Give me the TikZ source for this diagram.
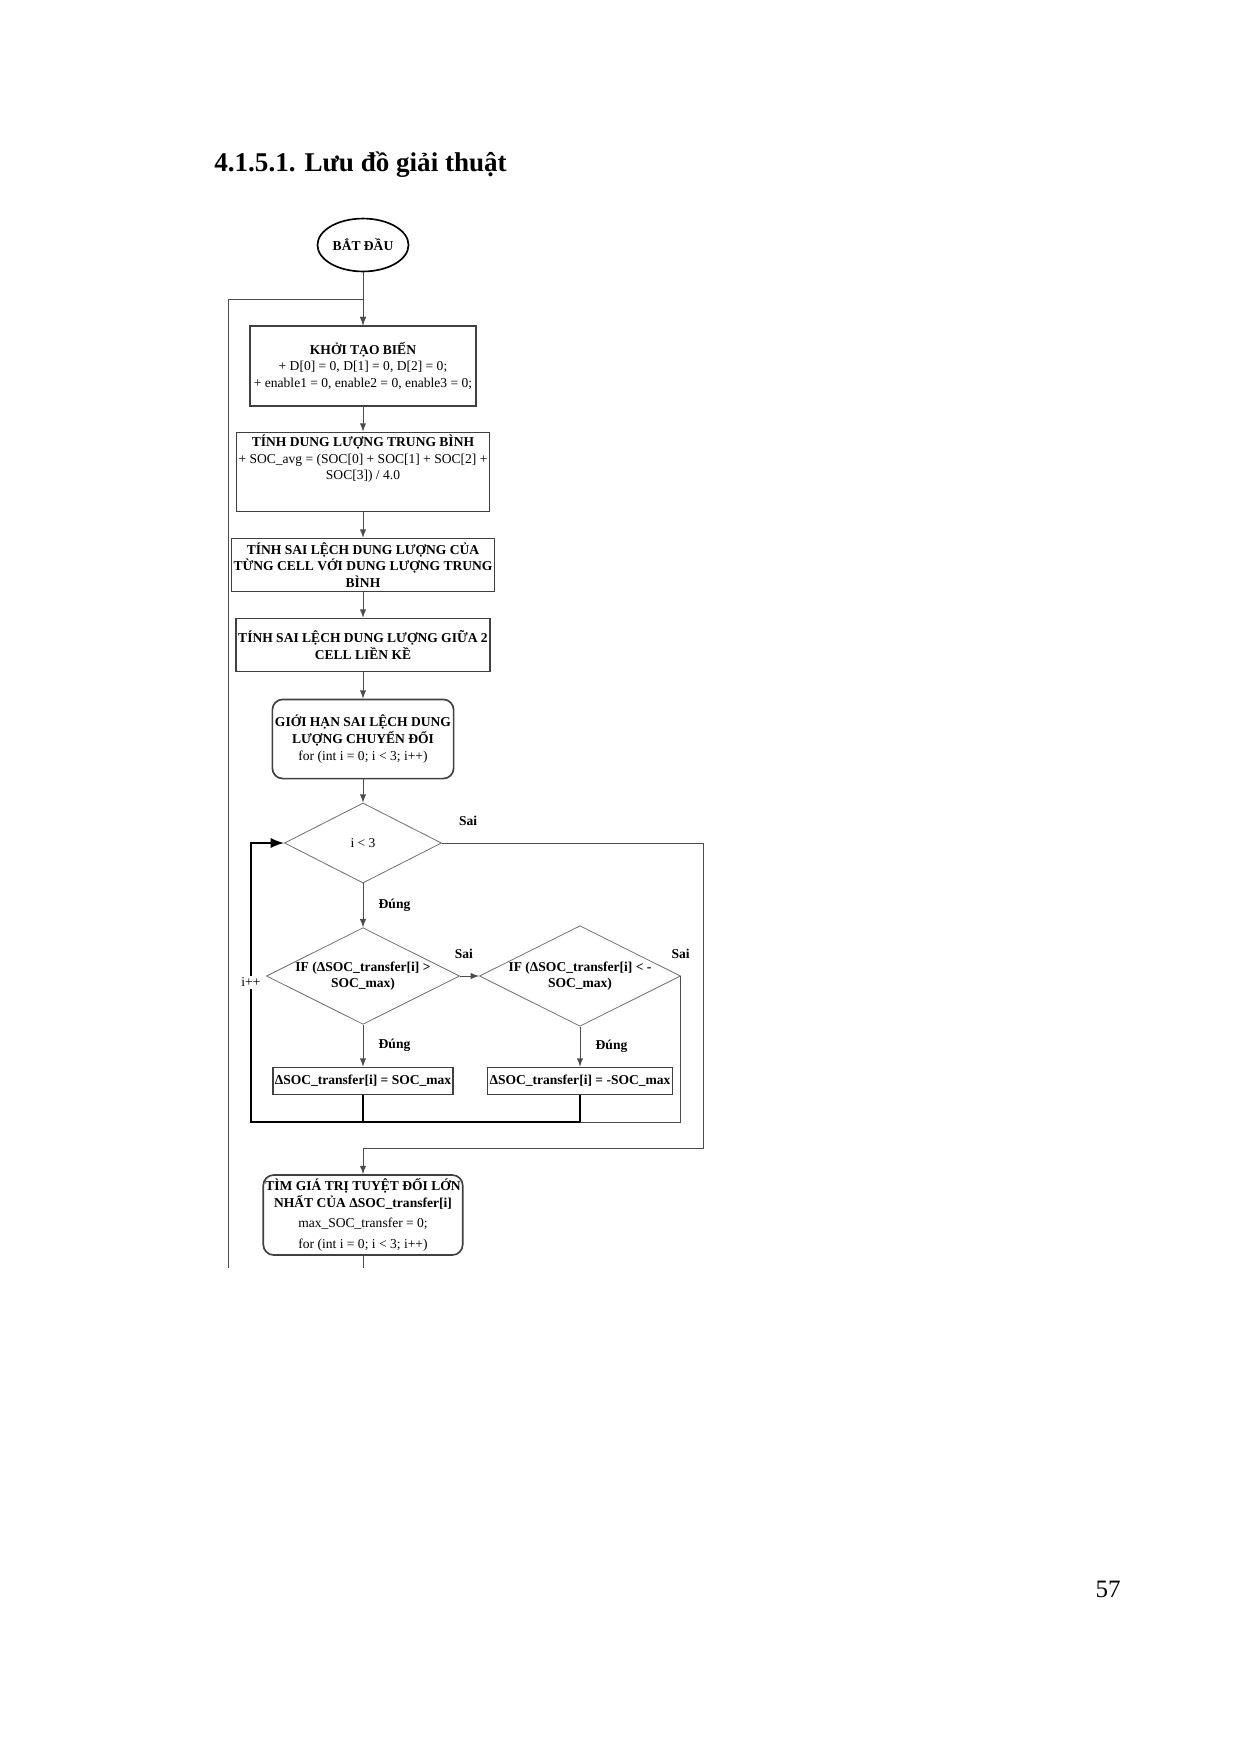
\documentclass[tikz,border=0pt]{standalone}
\usepackage{fontspec}
\setmainfont{Liberation Serif}
\usepackage{tikz}
\usetikzlibrary{arrows,shapes,positioning}

\tikzset{
    procbox/.style={draw=black!75,rectangle,thick,minimum width=108.5pt,align=center,inner sep=1pt,font=\fontsize{6.5}{8}\selectfont},
    roundbox/.style={procbox,rounded corners=5pt,minimum width=87pt,minimum height=38pt},
    test/.style={draw=black!55,diamond,aspect=2,inner sep=0pt,minimum width=75.4pt,minimum height=38.4pt,align=center,font=\fontsize{6.5}{8}\selectfont},
    lab/.style={font=\bfseries\fontsize{6.5}{8}\selectfont},
    flow/.style={draw=black!70,->,>=latex},
}

\begin{document}
\begin{tikzpicture}[x=0.48pt,y=-0.48pt]
    \useasboundingbox (0,0) rectangle (1240,1754);
    \node[anchor=west,font=\bfseries\fontsize{13}{15}\selectfont] (title) at (207,165) {4.1.5.1. Lưu đồ giải thuật};
    \node[font=\fontsize{12}{14}\selectfont] (page) at (1108,1589) {57};

    \node[draw,ellipse,thick,minimum width=43.7pt,minimum height=25.4pt,inner sep=0pt,font=\bfseries\fontsize{6.5}{8}\selectfont] (start) at (363,245) {BẮT ĐẦU};
    \node[procbox,minimum height=38.4pt] (init) at (363,366) {\textbf{KHỞI TẠO BIẾN}\\+ D[0] = 0, D[1] = 0, D[2] = 0;\\+ enable1 = 0, enable2 = 0, enable3 = 0;};
    \node[procbox,minimum height=38pt] (avg) at (363,472) {\textbf{TÍNH DUNG LƯỢNG TRUNG BÌNH}\\+ SOC\_avg = (SOC[0] + SOC[1] + SOC[2] +\\SOC[3]) / 4.0\\[6pt]};
    \node[procbox,minimum height=25.4pt,font=\bfseries\fontsize{6.5}{8}\selectfont] (dev) at (363,565) {TÍNH SAI LỆCH DUNG LƯỢNG  CỦA\\TỪNG CELL VỚI DUNG LƯỢNG TRUNG\\BÌNH};
    \node[procbox,minimum height=25.4pt,font=\bfseries\fontsize{6.5}{8}\selectfont] (adj) at (363,645) {TÍNH SAI LỆCH DUNG LƯỢNG GIỮA 2\\CELL LIỀN KỀ};
    \node[roundbox] (lim) at (363,739) {\textbf{GIỚI HẠN SAI LỆCH DUNG}\\\textbf{LƯỢNG CHUYỂN ĐỔI}\\for (int i = 0; i < 3; i++)};
    \node[test] (loop) at (363,843) {i < 3};
    \node[test,font=\bfseries\fontsize{6.5}{8}\selectfont] (up) at (363,976) {IF (ΔSOC\_transfer[i] >\\SOC\_max)};
    \node[test,font=\bfseries\fontsize{6.5}{8}\selectfont] (down) at (580,976) {IF (ΔSOC\_transfer[i] < -\\SOC\_max)};
    \node[procbox,minimum width=77pt,minimum height=13pt,font=\bfseries\fontsize{6.5}{8}\selectfont] (capup) at (363,1081) {ΔSOC\_transfer[i] = SOC\_max};
    \node[procbox,minimum width=76.5pt,minimum height=13pt,font=\bfseries\fontsize{6.5}{8}\selectfont] (capdown) at (580,1081) {ΔSOC\_transfer[i] = -SOC\_max};
    \node[roundbox,minimum height=38.4pt] (maxs) at (363,1215) {\textbf{TÌM GIÁ TRỊ TUYỆT ĐỐI LỚN}\\\textbf{NHẤT CỦA ΔSOC\_transfer[i]}\\[2pt]max\_SOC\_transfer = 0;\\[2pt]for (int i = 0; i < 3; i++)};

    \coordinate (top) at (363,299);
    \coordinate (bot) at (363,1268);

    % main column
    \draw[flow] (start) -- (init);
    \draw[flow] (init) -- (avg);
    \draw[flow] (avg) -- (dev);
    \draw[flow] (dev) -- (adj);
    \draw[flow] (adj) -- (lim);
    \draw[flow] (lim) -- (loop);
    \draw[flow] (loop) -- node[lab,right=4pt] {Đúng} (up);
    \draw[flow] (up) -- node[lab,right=4pt] {Đúng} (capup);
    \draw[flow] (down) -- node[lab,right=4pt] {Đúng} (capdown);
    \draw[flow] (up.east) -- node[lab,above=5pt,pos=0.2] {Sai} (down.west);
    % loop back
    \draw[very thick,->,>=latex] (capdown.south) |- (251,1122) -- node[fill=white,inner sep=1pt,font=\fontsize{6.5}{8}\selectfont] {i++} (251,843) -- (loop.west);
    \draw[very thick] (capup.south) -- (363,1122);
    \draw[draw=black!70] (down.east) -- node[lab,above=5pt,pos=0.3] {Sai} (680,976) |- (580,1122);
    % exit of the loop
    \draw[flow] (loop.east) -- node[lab,above=5pt,pos=0.1] {Sai} (703,843) |- (363,1148) -- (maxs);
    \draw[draw=black!70] (maxs) -- (bot);
    \draw[flow] (228,1268) |- (top) -- (init);
\end{tikzpicture}
\end{document}
